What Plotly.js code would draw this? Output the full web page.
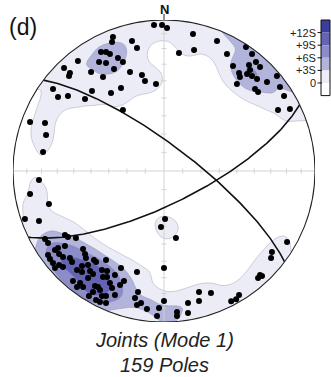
<!DOCTYPE html>
<html><head><meta charset="utf-8">
<script src="https://cdn.plot.ly/plotly-3.0.1.min.js"></script>
<style>html,body{margin:0;padding:0;background:#fff;}#plot{width:331px;height:377px;}</style>
</head><body><div id="plot"></div>
<script>
// ---- data (equal-area net coordinates of poles, lower hemisphere, unit radius) ----
const poleX = [
-0.066,-0.013,0.020,0.192,0.099,0.199,0.351,0.417,0.543,0.583,
0.609,0.563,0.636,0.570,0.457,0.497,0.550,0.583,0.616,0.503,
0.483,0.603,0.623,0.682,0.748,0.768,0.795,0.755,0.834,-0.338,
-0.344,-0.212,-0.179,-0.417,-0.384,-0.358,-0.305,-0.272,-0.430,-0.384,
-0.331,-0.404,-0.483,-0.570,-0.662,-0.623,-0.629,-0.225,-0.146,-0.126,
-0.053,-0.285,-0.351,-0.477,-0.735,-0.702,-0.636,-0.523,-0.272,-0.887,
-0.788,-0.781,-0.801,-0.828,-0.887,-0.762,-0.921,-0.828,
-0.656,-0.636,-0.583,-0.788,-0.768,-0.536,-0.523,-0.768,-0.695,-0.669,
-0.623,-0.755,-0.735,-0.695,-0.669,-0.722,-0.464,-0.450,-0.384,-0.543,
-0.576,-0.543,-0.490,-0.470,-0.411,-0.377,-0.404,-0.377,-0.285,-0.265,
-0.179,-0.603,-0.556,-0.576,-0.536,-0.457,-0.437,-0.470,-0.497,-0.411,
-0.384,-0.424,-0.384,
-0.656,-0.609,-0.503,-0.344,-0.702,-0.517,-0.358,-0.325,-0.450,
-0.172,-0.192,-0.152,-0.179,-0.113,-0.046,-0.033,0.000,0.086,0.086,
0.159,0.159,0.232,0.232,0.311,0.445,0.478,0.497,0.000,
0.007,-0.020,0.079,
0.815,0.715,0.709,0.636,0.623,0.649,
-0.722,-0.503,-0.424,-0.325,-0.291];
const poleY = [
0.967,0.967,0.947,0.907,0.781,0.801,0.861,0.775,0.821,0.775,
0.722,0.702,0.689,0.669,0.695,0.649,0.642,0.629,0.609,0.623,
0.576,0.543,0.523,0.589,0.629,0.556,0.497,0.404,0.411,0.887,
0.854,0.861,0.815,0.788,0.788,0.775,0.748,0.722,0.722,0.715,
0.675,0.623,0.656,0.728,0.682,0.649,0.629,0.656,0.636,0.596,
0.576,0.550,0.517,0.530,0.543,0.490,0.497,0.477,0.404,0.325,
0.318,0.238,0.126,-0.060,-0.152,-0.219,-0.318,-0.331,
-0.424,-0.437,-0.444,-0.450,-0.477,-0.517,-0.550,-0.556,-0.550,-0.570,
-0.576,-0.583,-0.609,-0.623,-0.636,-0.642,-0.589,-0.603,-0.589,-0.629,
-0.656,-0.669,-0.662,-0.682,-0.656,-0.662,-0.702,-0.702,-0.642,-0.728,
-0.669,-0.728,-0.742,-0.768,-0.768,-0.762,-0.768,-0.801,-0.828,-0.828,
-0.828,-0.868,-0.874,
-0.497,-0.603,-0.709,-0.775,-0.510,-0.576,-0.742,-0.689,-0.854,
-0.801,-0.841,-0.874,-0.887,-0.914,-0.960,-0.907,-0.861,-0.934,-0.960,
-0.874,-0.940,-0.801,-0.861,-0.808,-0.862,-0.850,-0.821,-0.642,
-0.318,-0.371,-0.444,
-0.470,-0.536,-0.576,-0.689,-0.709,-0.695,
-0.523,-0.623,-0.788,-0.821,-0.755];
const planeStrike = [307, 64];
const planeDip = [76, 72];
const levelValues = [0, 3, 6, 9, 12];
const levelLabels = ['+12S', '+9S', '+6S', '+3S', '0'];
const bandColors = ['#ffffff', '#ececf6', '#b3b4dc', '#8c8dc8', '#6364b3', '#3c3e9e'];
const panelLabel = '(d)';
const northLabel = 'N';
const titleLines = ['Joints (Mode 1)', '159 Poles'];

// ---- geometry helpers ----
const D = Math.PI / 180;
function toVec(x, y) {
  const r = Math.min(Math.hypot(x, y), 1);
  const th = 2 * Math.asin(r / Math.SQRT2);
  const az = Math.atan2(x, y);
  return [Math.sin(th) * Math.sin(az), Math.sin(th) * Math.cos(az), Math.cos(th)];
}
function project(trend, plunge) {
  const th = Math.PI / 2 - plunge;
  const r = Math.SQRT2 * Math.sin(th / 2);
  return [r * Math.sin(trend), r * Math.cos(trend)];
}
function greatCircle(strike, dip) {
  const s = strike * D, d = dip * D, dd = s + Math.PI / 2;
  const sv = [Math.sin(s), Math.cos(s), 0];
  const dv = [Math.cos(d) * Math.sin(dd), Math.cos(d) * Math.cos(dd), Math.sin(d)];
  const xs = [], ys = [];
  for (let a = 0; a <= 180; a += 1) {
    const ca = Math.cos(a * D), sa = Math.sin(a * D);
    const v = [ca * sv[0] + sa * dv[0], ca * sv[1] + sa * dv[1], ca * sv[2] + sa * dv[2]];
    const pl = Math.asin(Math.max(-1, Math.min(1, v[2])));
    const tr = Math.atan2(v[0], v[1]);
    const p = project(tr, pl);
    xs.push(p[0]); ys.push(p[1]);
  }
  return [xs, ys];
}

// ---- Kamb-type counting (soft-edged axial cone), sigma units above expected ----
const n = poleX.length;
const pv = poleX.map((x, i) => toVec(x, poleY[i]));
const A = 0.012;
const alpha = Math.acos(1 - A);
const tau = 2.2 * D;
const E = n * A;
const sig = Math.sqrt(n * A * (1 - A));
const G = 141, gx = [], gy = [];
for (let i = 0; i < G; i++) { gx.push(-1.03 + 2.06 * i / (G - 1)); gy.push(-1.03 + 2.06 * i / (G - 1)); }
const Z = [];
for (let j = 0; j < G; j++) {
  const row = [];
  for (let i = 0; i < G; i++) {
    const v = toVec(gx[i], gy[j]);
    let s = 0;
    for (let k = 0; k < n; k++) {
      const c = Math.min(1, Math.abs(v[0] * pv[k][0] + v[1] * pv[k][1] + v[2] * pv[k][2]));
      const th = Math.acos(c);
      s += 1 / (1 + Math.exp(-(alpha - th) / tau));
    }
    row.push((s - E) / sig);
  }
  Z.push(row);
}

const step = levelValues[1] - levelValues[0];
const cs = [];
const nb = bandColors.length;
for (let b = 0; b < nb; b++) {
  const lo = b === 0 ? 0 : (b - 0.5) / (nb - 1);
  const hi = b === nb - 1 ? 1 : (b + 0.5) / (nb - 1);
  cs.push([lo, bandColors[b]]); cs.push([hi, bandColors[b]]);
}

const traces = [];
traces.push({
  type: 'contour', x: gx, y: gy, z: Z, autocontour: false,
  contours: { start: levelValues[0], end: levelValues[levelValues.length - 1], size: step, coloring: 'fill', showlines: true },
  line: { color: 'rgba(120,120,150,0.55)', width: 0.6, smoothing: 1 },
  colorscale: cs, showscale: false, hoverinfo: 'skip'
});

// cross lines with ticks
const crossX = [-1, 1, null, 0, 0], crossY = [0, 0, null, -1, 1];
const tl = 0.017;
for (let a = 10; a < 90; a += 10) {
  const r = Math.SQRT2 * Math.sin(a * D / 2);
  [r, -r].forEach(q => {
    crossX.push(null, q, q, null, -tl, tl);
    crossY.push(null, -tl, tl, null, q, q);
  });
}
traces.push({ type: 'scatter', mode: 'lines', x: crossX, y: crossY, line: { color: '#cfcfcf', width: 0.9 }, hoverinfo: 'skip', connectgaps: false });

planeStrike.forEach((s, i) => {
  const g = greatCircle(s, planeDip[i]);
  traces.push({ type: 'scatter', mode: 'lines', x: g[0], y: g[1], line: { color: '#111', width: 1.6 }, hoverinfo: 'skip' });
});

traces.push({ type: 'scatter', mode: 'markers', x: poleX, y: poleY, marker: { color: '#000', size: 6, line: { width: 0 } }, hoverinfo: 'skip' });

// mask outside circle
let path = 'M -1.2,-1.2 L 1.2,-1.2 L 1.2,1.2 L -1.2,1.2 Z M 1,0';
for (let a = 1; a <= 360; a++) path += ' L ' + Math.cos(-a * D).toFixed(5) + ',' + Math.sin(-a * D).toFixed(5);
path += ' Z';

// pixel -> paper helpers (plot area 13..315 x, 20..322 y)
const PX = p => (p - 13) / 302, PY = p => (322 - p) / 302;

const shapes = [
  { type: 'path', path: path, xref: 'x', yref: 'y', fillcolor: '#fff', fillrule: 'evenodd', line: { width: 0 }, layer: 'above' },
  { type: 'circle', xref: 'x', yref: 'y', x0: -1, x1: 1, y0: -1, y1: 1, line: { color: '#222', width: 1.1 }, layer: 'above' },
  { type: 'line', xref: 'paper', yref: 'paper', x0: 0.5, x1: 0.5, y0: PY(14), y1: PY(20), line: { color: '#222', width: 1 }, layer: 'above' }
];
const legTop = 20, legH = 12.6, legL = 321, legR = 330;
for (let b = 0; b < nb; b++) {
  const y0 = legTop + b * legH, y1 = y0 + legH;
  shapes.push({ type: 'rect', xref: 'paper', yref: 'paper', x0: PX(legL), x1: PX(legR), y0: PY(y0), y1: PY(y1),
    fillcolor: bandColors[nb - 1 - b], line: { width: 0 }, layer: 'above' });
}
shapes.push({ type: 'rect', xref: 'paper', yref: 'paper', x0: PX(legL), x1: PX(legR), y0: PY(legTop), y1: PY(legTop + nb * legH),
  line: { color: '#111', width: 1 }, layer: 'above' });
const annotations = [];
levelLabels.forEach((lab, i) => {
  const yy = legTop + (i + 1) * legH;
  shapes.push({ type: 'line', xref: 'paper', yref: 'paper', x0: PX(legL - 3.5), x1: PX(legL + 1), y0: PY(yy), y1: PY(yy), line: { color: '#111', width: 1 }, layer: 'above' });
  annotations.push({ xref: 'paper', yref: 'paper', x: PX(legL - 3.5), y: PY(yy), xanchor: 'right', yanchor: 'middle', text: lab, showarrow: false,
    font: { family: 'Liberation Sans, Arial, sans-serif', size: 11, color: '#222' } });
});
annotations.push({ xref: 'paper', yref: 'paper', x: 0.5, y: PY(9.5), xanchor: 'center', yanchor: 'middle', text: '<b>' + northLabel + '</b>', showarrow: false,
  font: { family: 'Liberation Sans, Arial, sans-serif', size: 13, color: '#111' } });
annotations.push({ xref: 'paper', yref: 'paper', x: PX(7), y: PY(27), xanchor: 'left', yanchor: 'middle', text: panelLabel, showarrow: false,
  font: { family: 'Liberation Sans, Arial, sans-serif', size: 23, color: '#111' } });
titleLines.forEach((t, i) => {
  annotations.push({ xref: 'paper', yref: 'paper', x: 0.5, y: PY(340 + i * 25), xanchor: 'center', yanchor: 'middle', text: '<i>' + t + '</i>', showarrow: false,
    font: { family: 'Liberation Sans, Arial, sans-serif', size: 20, color: '#222' } });
});

const layout = {
  width: 331, height: 377, margin: { l: 13, r: 16, t: 20, b: 55, pad: 0 },
  paper_bgcolor: '#fff', plot_bgcolor: '#fff', showlegend: false,
  xaxis: { range: [-1, 1], visible: false, fixedrange: true },
  yaxis: { range: [-1, 1], visible: false, fixedrange: true },
  shapes: shapes, annotations: annotations
};
Plotly.newPlot('plot', traces, layout, { staticPlot: true, displayModeBar: false });
</script></body></html>
